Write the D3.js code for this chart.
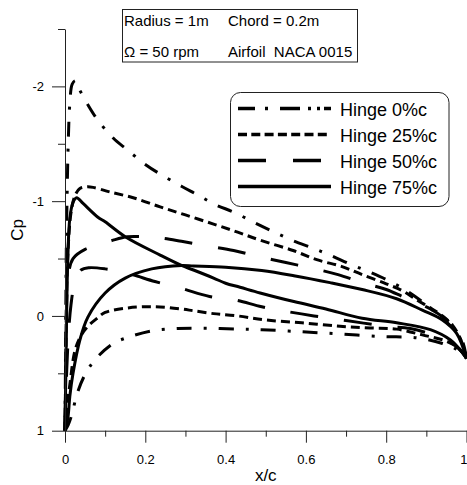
<!DOCTYPE html>
<html>
<head>
<meta charset="utf-8">
<script src="https://cdn.jsdelivr.net/npm/d3@7"></script>
<style>
  html, body { margin: 0; padding: 0; background: #fff; }
  svg { display: block; font-family: "Liberation Sans", Arial, sans-serif; }
</style>
</head>
<body>
<svg id="chart" width="467" height="485"></svg>
<script>
// Pressure coefficient along the chord, [x/c, Cp], upper and lower surfaces
const hinge0Upper = [[0,1],[0.001,0.5],[0.002,0],[0.003,-0.5],[0.005,-1.0],[0.008,-1.5],[0.012,-1.85],[0.018,-2.02],[0.026,-2.05],[0.035,-1.98],[0.057,-1.84],[0.081,-1.71],[0.12,-1.55],[0.154,-1.45],[0.2,-1.32],[0.24,-1.23],[0.29,-1.13],[0.33,-1.055],[0.374,-0.97],[0.423,-0.9],[0.473,-0.81],[0.518,-0.735],[0.568,-0.656],[0.618,-0.59],[0.66,-0.53],[0.714,-0.445],[0.76,-0.38],[0.81,-0.3],[0.855,-0.21],[0.895,-0.11],[0.926,-0.02],[0.955,0.07],[0.975,0.14],[0.99,0.25],[1.0,0.37]];
const hinge0Lower = [[0,1],[0.008,0.95],[0.017,0.86],[0.03,0.68],[0.05,0.51],[0.075,0.38],[0.12,0.24],[0.154,0.19],[0.216,0.13],[0.28,0.11],[0.35,0.108],[0.43,0.115],[0.49,0.12],[0.585,0.137],[0.685,0.157],[0.79,0.18],[0.876,0.19],[0.94,0.24],[0.975,0.29],[1.0,0.37]];
const hinge25Upper = [[0,1],[0.002,0.4],[0.004,-0.2],[0.008,-0.6],[0.015,-0.9],[0.025,-1.05],[0.037,-1.11],[0.055,-1.125],[0.07,-1.12],[0.112,-1.08],[0.17,-1.03],[0.237,-0.95],[0.3,-0.88],[0.37,-0.8],[0.43,-0.73],[0.486,-0.66],[0.568,-0.57],[0.627,-0.49],[0.69,-0.43],[0.74,-0.36],[0.8,-0.28],[0.84,-0.22],[0.876,-0.14],[0.91,-0.07],[0.94,0.0],[0.965,0.08],[0.985,0.2],[1.0,0.37]];
const hinge25Lower = [[0,1],[0.005,0.8],[0.012,0.6],[0.025,0.3],[0.04,0.17],[0.057,0.09],[0.08,0.02],[0.1,-0.03],[0.157,-0.07],[0.224,-0.08],[0.29,-0.06],[0.32,-0.045],[0.37,-0.02],[0.43,0.0],[0.5,0.035],[0.59,0.06],[0.685,0.09],[0.76,0.105],[0.826,0.115],[0.89,0.165],[0.95,0.22],[0.98,0.28],[1.0,0.37]];
const hinge50Upper = [[0,1],[0.002,0.4],[0.004,-0.1],[0.008,-0.35],[0.02,-0.5],[0.05,-0.58],[0.087,-0.62],[0.12,-0.66],[0.155,-0.69],[0.2,-0.69],[0.237,-0.68],[0.29,-0.65],[0.353,-0.61],[0.42,-0.57],[0.48,-0.52],[0.55,-0.465],[0.61,-0.42],[0.68,-0.36],[0.74,-0.29],[0.8,-0.23],[0.84,-0.17],[0.87,-0.125],[0.91,-0.06],[0.945,0.02],[0.97,0.1],[0.99,0.22],[1.0,0.37]];
const hinge50Lower = [[0,1],[0.003,0.6],[0.008,0.2],[0.015,-0.1],[0.025,-0.3],[0.04,-0.4],[0.06,-0.42],[0.1,-0.41],[0.157,-0.37],[0.224,-0.3],[0.29,-0.24],[0.36,-0.17],[0.423,-0.14],[0.49,-0.08],[0.55,-0.04],[0.62,0.0],[0.7,0.04],[0.8,0.09],[0.86,0.11],[0.92,0.17],[0.96,0.23],[0.985,0.3],[1.0,0.37]];
const hinge75Upper = [[0,1],[0.002,0.5],[0.004,0],[0.007,-0.5],[0.012,-0.85],[0.02,-0.99],[0.029,-1.03],[0.045,-0.98],[0.082,-0.86],[0.1,-0.82],[0.15,-0.69],[0.237,-0.53],[0.29,-0.44],[0.32,-0.4],[0.37,-0.33],[0.4,-0.285],[0.436,-0.25],[0.486,-0.2],[0.57,-0.125],[0.65,-0.06],[0.74,0.02],[0.826,0.06],[0.91,0.12],[0.96,0.21],[0.99,0.32],[1.0,0.37]];
const hinge75Lower = [[0,1],[0.0075,0.88],[0.012,0.7],[0.02,0.5],[0.037,0.21],[0.057,0.01],[0.1,-0.2],[0.15,-0.33],[0.216,-0.41],[0.29,-0.44],[0.32,-0.436],[0.4,-0.425],[0.49,-0.395],[0.57,-0.35],[0.66,-0.29],[0.74,-0.23],[0.826,-0.15],[0.89,-0.05],[0.94,0.035],[0.975,0.15],[1.0,0.37]];

const seriesLabels = ["Hinge 0%c", "Hinge 25%c", "Hinge 50%c", "Hinge 75%c"];
const xTicks = [0, 0.2, 0.4, 0.6, 0.8, 1];
const xMinorTicks = [0.1, 0.3, 0.5, 0.7, 0.9];
const yTicks = [-2, -1, 0, 1];
const yMinorTicks = [-2.5, -1.5, -0.5, 0.5];
const infoLines = [["Radius = 1m", "Chord = 0.2m"], ["\u03A9 = 50 rpm", "Airfoil  NACA 0015"]];

const series = [
  { label: seriesLabels[0], curves: [hinge0Upper, hinge0Lower], dash: "15,12,3,12", legendDash: "17,10,3,12,20,8,3,6,3,4,10,40" },
  { label: seriesLabels[1], curves: [hinge25Upper, hinge25Lower], dash: "9,5", legendDash: "9,4.3" },
  { label: seriesLabels[2], curves: [hinge50Upper, hinge50Lower], dash: "28,26", legendDash: "28,27" },
  { label: seriesLabels[3], curves: [hinge75Upper, hinge75Lower], dash: null, legendDash: null }
];

const svg = d3.select("#chart");
const x = d3.scaleLinear().domain([0, 1]).range([65, 466.5]);
const y = d3.scaleLinear().domain([-2.5, 1]).range([29, 430.7]);
const axisColor = "#222";

// Curves
const line = d3.line()
  .x(d => x(d[0]))
  .y(d => y(d[1]))
  .curve(d3.curveCatmullRom.alpha(0.5));

const curveG = svg.append("g");
series.forEach(s => {
  s.curves.forEach(c => {
    curveG.append("path")
      .attr("d", line(c))
      .attr("fill", "none")
      .attr("stroke", "#000")
      .attr("stroke-width", 3)
      .attr("stroke-linejoin", "round")
      .attr("stroke-dasharray", s.dash);
  });
});

// Axes
function styleAxis(g) {
  g.select(".domain").attr("stroke", axisColor).attr("stroke-width", 1);
  g.selectAll(".tick line").attr("stroke", axisColor);
  g.selectAll(".tick text").attr("fill", "#000").attr("font-size", 13)
    .attr("font-family", "Liberation Sans, Arial, sans-serif");
}

const xAxis = svg.append("g").attr("transform", `translate(0,${y(1)})`)
  .call(d3.axisBottom(x).tickValues(xTicks).tickSize(12).tickSizeOuter(0).tickPadding(12)
    .tickFormat(d => d === 0 ? "0" : d === 1 ? "1" : d3.format(".1f")(d)));
styleAxis(xAxis);
// keep the last label inside the page edge
xAxis.selectAll(".tick").filter(d => d === 1).select("text").attr("text-anchor", "end").attr("dx", 0.5);
svg.append("g").attr("transform", `translate(0,${y(1)})`)
  .call(d3.axisBottom(x).tickValues(xMinorTicks).tickSize(6).tickFormat(""))
  .call(g => g.select(".domain").remove())
  .call(g => g.selectAll(".tick line").attr("stroke", axisColor));

const yAxis = svg.append("g").attr("transform", `translate(${x(0)},0)`)
  .call(d3.axisLeft(y).tickValues(yTicks).tickSize(13).tickSizeOuter(0).tickPadding(8)
    .tickFormat(d => d3.format("d")(d).replace("\u2212", "-")));
styleAxis(yAxis);
svg.append("g").attr("transform", `translate(${x(0)},0)`)
  .call(d3.axisLeft(y).tickValues(yMinorTicks).tickSize(7).tickFormat(""))
  .call(g => g.select(".domain").remove())
  .call(g => g.selectAll(".tick line").attr("stroke", axisColor));

// Axis titles
svg.append("text")
  .attr("x", (x(0) + x(1)) / 2).attr("y", 481)
  .attr("text-anchor", "middle").attr("font-size", 17)
  .text("x/c");
svg.append("text")
  .attr("transform", `translate(23,${(y(-2.5) + y(1)) / 2}) rotate(-90)`)
  .attr("text-anchor", "middle").attr("font-size", 17)
  .text("Cp");

// Parameter box
const info = svg.append("g");
info.append("rect")
  .attr("x", 122.5).attr("y", 9.5).attr("width", 235).attr("height", 52.5)
  .attr("fill", "#fff").attr("stroke", axisColor).attr("stroke-width", 1);
const infoCols = [124, 228];
const infoRows = [25.5, 57];
infoLines.forEach((row, i) => {
  row.forEach((t, j) => {
    info.append("text")
      .attr("x", infoCols[j]).attr("y", infoRows[i])
      .attr("font-size", 15)
      .style("white-space", "pre")
      .text(t);
  });
});

// Legend
const legend = svg.append("g");
legend.append("rect")
  .attr("x", 230.5).attr("y", 92.5).attr("width", 218.5).attr("height", 114)
  .attr("rx", 10).attr("ry", 10)
  .attr("fill", "#fff").attr("stroke", axisColor).attr("stroke-width", 1);
const legendRows = d3.scalePoint().domain(seriesLabels).range([108.5, 186.5]);
series.forEach(s => {
  const ly = legendRows(s.label);
  legend.append("line")
    .attr("x1", 238).attr("x2", 331).attr("y1", ly).attr("y2", ly)
    .attr("stroke", "#000").attr("stroke-width", 3.5)
    .attr("stroke-dasharray", s.legendDash);
  legend.append("text")
    .attr("x", 340).attr("y", ly + 7)
    .attr("font-size", 18)
    .text(s.label);
});
</script>
</body>
</html>
